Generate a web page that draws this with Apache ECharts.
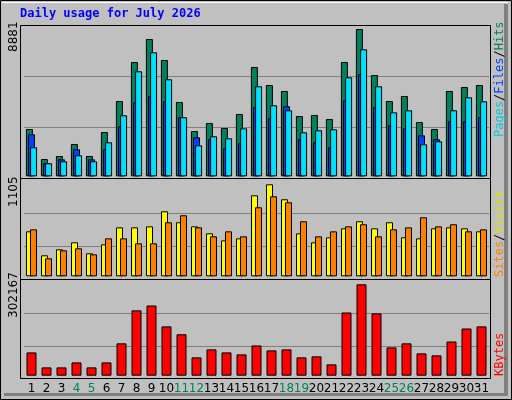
<!DOCTYPE html>
<html><head><meta charset="utf-8">
<script src="https://cdn.jsdelivr.net/npm/echarts@6/dist/echarts.min.js"></script>
<style>html,body{margin:0;padding:0;background:#c0c0c0}#c{width:512px;height:400px}</style>
</head><body><div id="c"></div>
<script>
const days = ['1','2','3','4','5','6','7','8','9','10','11','12','13','14','15','16','17','18','19','20','21','22','23','24','25','26','27','28','29','30','31'];
const weekend = ['4','5','11','12','18','19','25','26'];
const hits  = [2852,1043,1224,1948,1224,2671,4540,6892,8279,7013,4480,2731,3214,2912,3757,6591,5505,5144,3636,3696,3455,6892,8881,6108,4540,4842,3274,2852,5144,5385,5505];
const pages = [2533,784,1025,1628,1025,1628,3015,4462,4824,4522,3558,2352,2231,1688,1990,4161,3497,4221,2231,2050,1749,4583,6151,4161,3075,2894,2472,2231,3317,3317,3558];
const files = [1749,784,905,1266,905,2050,3678,6332,7477,5849,3558,1869,2412,2291,2894,5427,4281,3980,2653,2774,2834,5970,7658,5427,3859,3980,1930,2110,3980,4764,4522];
const visits = [540,252,324,408,276,384,588,588,600,781,649,600,516,432,456,973,1105,925,516,408,468,576,661,576,649,468,456,576,588,576,540];
const sites  = [564,216,312,336,264,456,456,396,396,649,733,588,480,540,480,829,961,889,661,480,540,600,625,480,564,588,709,600,625,540,564];
const kbytes = [77000,27500,27500,44000,27500,44000,107000,216000,232000,163000,137000,60600,87000,77000,70500,100000,83700,87000,60600,63900,37400,209000,302167,206000,93600,107000,73800,67200,113000,156000,163000];
const maxHits = 8881, maxVisits = 1105, maxK = 302167;

const chart = echarts.init(document.getElementById('c'));
const GL = 24, GW = 465;
function ml(vals){return {silent:true,symbol:'none',label:{show:false},lineStyle:{color:'#808080',type:'solid',width:1},data:vals.map(v=>({yAxis:v})),z:0};}
const bs = {borderColor:'#000',borderWidth:1};
const fr = (y,h)=>({type:'rect',shape:{x:20.5,y:y+0.5,width:470,height:h},style:{fill:'none',stroke:'#000',lineWidth:1},z:-1});
chart.setOption({
  animation:false,
  backgroundColor:'#c0c0c0',
  textStyle:{fontFamily:'DejaVu Sans'},
  grid:[
    {left:GL,width:GW,top:29,height:147.3},
    {left:GL,width:GW,top:184.3,height:92},
    {left:GL,width:GW,top:284.3,height:91.4}
  ],
  xAxis:[0,1,2].map(i=>({type:'category',gridIndex:i,data:days,boundaryGap:true,
    axisLine:{show:false},axisTick:{show:false},
    axisLabel:{show:i===2,margin:7,fontSize:12,fontFamily:'DejaVu Sans',color:'#000',interval:0,
      formatter:v=>weekend.includes(v)?'{w|'+v+'}':v,rich:{w:{color:'#00805c',fontSize:12,fontFamily:'DejaVu Sans'}}}})),
  yAxis:[[0,maxHits],[1,maxVisits],[2,maxK]].map(([i,m])=>({type:'value',gridIndex:i,min:0,max:m,show:false,splitLine:{show:false}})),
  series:[
    {type:'bar',xAxisIndex:0,yAxisIndex:0,data:hits,barWidth:7,barGap:'-70%',itemStyle:{color:'#00805c',...bs},markLine:ml([2972,6047])},
    {type:'bar',xAxisIndex:0,yAxisIndex:0,data:pages,barWidth:7,barGap:'-70%',itemStyle:{color:'#0040ff',...bs}},
    {type:'bar',xAxisIndex:0,yAxisIndex:0,data:files,barWidth:7,barGap:'-70%',itemStyle:{color:'#00e0ff',...bs}},
    {type:'bar',xAxisIndex:1,yAxisIndex:1,data:visits,barWidth:7,barGap:'-43%',itemStyle:{color:'#ffff00',...bs},markLine:ml([360,757])},
    {type:'bar',xAxisIndex:1,yAxisIndex:1,data:sites,barWidth:7,barGap:'-43%',itemStyle:{color:'#ff8000',...bs}},
    {type:'bar',xAxisIndex:2,yAxisIndex:2,data:kbytes,barWidth:10,itemStyle:{color:'#ff0000',...bs},markLine:ml([97200,206000])}
  ],
  graphic:[
    {type:'rect',shape:{x:0.5,y:0.5,width:511,height:399},style:{fill:'none',stroke:'#000',lineWidth:1},z:-2},
    {type:'rect',shape:{x:504,y:4,width:4,height:392},style:{fill:'#808080'},z:-2},
    {type:'rect',shape:{x:4,y:393,width:504,height:3},style:{fill:'#808080'},z:-2},
    {type:'rect',shape:{x:2,y:2,width:506,height:1},style:{fill:'#ffffff'},z:-2},
    fr(25,153),fr(178,101),fr(279,99),
    {type:'text',left:20,top:8,style:{text:'Daily usage for July 2026',fill:'#0000ff',font:'bold 12px "DejaVu Sans Mono"'}},
    {type:'text',x:8,y:52,rotation:Math.PI/2,style:{text:String(maxHits),fill:'#000',font:'12px "DejaVu Sans"',align:'left',verticalAlign:'top'}},
    {type:'text',x:8,y:207,rotation:Math.PI/2,style:{text:String(maxVisits),fill:'#000',font:'12px "DejaVu Sans"',align:'left',verticalAlign:'top'}},
    {type:'text',x:8,y:318,rotation:Math.PI/2,style:{text:String(maxK),fill:'#000',font:'12px "DejaVu Sans"',align:'left',verticalAlign:'top'}},
    {type:'text',x:494,y:137,rotation:Math.PI/2,style:{text:'{a|Pages}{s|/}{b|Files}{s|/}{c|Hits}',font:'12px "DejaVu Sans Mono"',align:'left',verticalAlign:'top',
      rich:{a:{fill:'#00c8e0',font:'12px "DejaVu Sans Mono"'},b:{fill:'#0040ff',font:'12px "DejaVu Sans Mono"'},c:{fill:'#00805c',font:'12px "DejaVu Sans Mono"'},s:{fill:'#000',font:'12px "DejaVu Sans Mono"'}}}},
    {type:'text',x:494,y:277,rotation:Math.PI/2,style:{text:'{a|Sites}{s|/}{b|Visits}',font:'12px "DejaVu Sans Mono"',align:'left',verticalAlign:'top',
      rich:{a:{fill:'#ff8000',font:'12px "DejaVu Sans Mono"'},b:{fill:'#e0e000',font:'12px "DejaVu Sans Mono"'},s:{fill:'#000',font:'12px "DejaVu Sans Mono"'}}}},
    {type:'text',x:494,y:376,rotation:Math.PI/2,style:{text:'KBytes',fill:'#ff0000',font:'12px "DejaVu Sans Mono"',align:'left',verticalAlign:'top'}}
  ]
});
</script></body></html>
